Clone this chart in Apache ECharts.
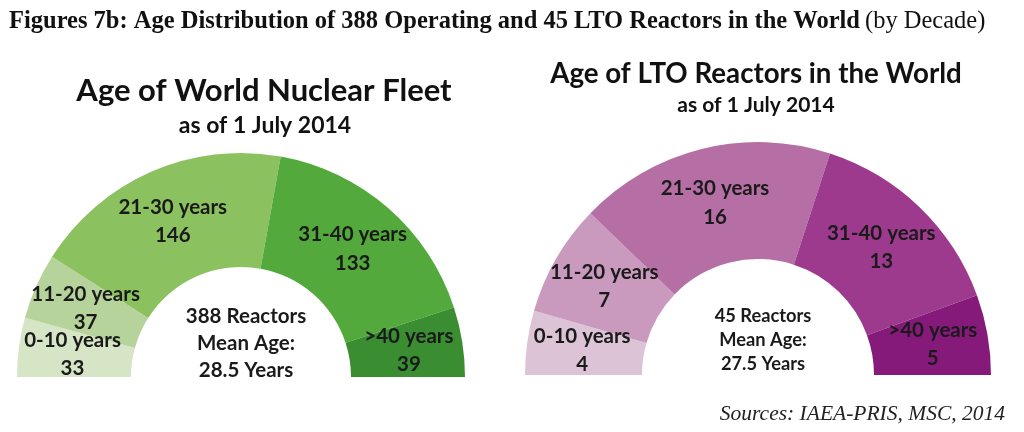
<!DOCTYPE html>
<html><head><meta charset="utf-8">
<script src="https://cdn.jsdelivr.net/npm/echarts@6/dist/echarts.min.js"></script>
<style>html,body{margin:0;padding:0;background:#fff}#c{width:1024px;height:432px}</style>
</head><body><div id="c"></div>
<script>
const categories = ['0-10 years', '11-20 years', '21-30 years', '31-40 years', '>40 years'];
const fleetValues = [33, 37, 146, 133, 39];
const ltoValues = [4, 7, 16, 13, 5];
const fleetColors = ['#d6e5c5', '#b5d39a', '#8cc160', '#53a93b', '#3a8d30'];
const ltoColors = ['#dcc3d6', '#c99abd', '#b56fa5', '#9e3a8e', '#861a7b'];
const fleetCenter = ['388 Reactors', 'Mean Age:', '28.5 Years'];
const ltoCenter = ['45 Reactors', 'Mean Age:', '27.5 Years'];

const F = 'Lato, "Open Sans", sans-serif';
const chart = echarts.init(document.getElementById('c'));

function pieSeries(values, colors, center, radius, fs) {
  return {
    type: 'pie', startAngle: 180, endAngle: 0, clockwise: true,
    center: center, radius: radius, silent: true, animation: false,
    itemStyle: {borderWidth: 0},
    avoidLabelOverlap: false,
    labelLayout: {hideOverlap: false},
    label: {
      position: 'inside', color: '#1a1a1a', fontFamily: F, fontWeight: 'bold',
      fontSize: fs, lineHeight: fs + 8,
      formatter: p => p.name + '\n' + p.value
    },
    labelLine: {show: false},
    data: categories.map((c, i) => ({name: c, value: values[i], itemStyle: {color: colors[i]}}))
  };
}

chart.setOption({
  backgroundColor: '#fff',
  title: [
    {text: '{b|Figures 7b: Age Distribution of 388 Operating and 45 LTO Reactors in the World} {n|(by Decade)}',
     left: 4, top: 4,
     textStyle: {rich: {
       b: {fontFamily: '"Liberation Serif", serif', fontWeight: 'bold', fontSize: 24.5, color: '#111'},
       n: {fontFamily: '"Liberation Serif", serif', fontWeight: 'normal', fontSize: 24.5, color: '#111'}}}},
    {text: 'Age of World Nuclear Fleet', left: 259, top: 70, textAlign: 'center',
     textStyle: {fontFamily: F, fontWeight: 'bold', fontSize: 31, color: '#111'}},
    {text: 'as of 1 July 2014', left: 260, top: 109, textAlign: 'center',
     textStyle: {fontFamily: F, fontWeight: 'bold', fontSize: 23, color: '#111'}},
    {text: 'Age of LTO Reactors in the World', left: 751, top: 55, textAlign: 'center',
     textStyle: {fontFamily: F, fontWeight: 'bold', fontSize: 27.7, color: '#111'}},
    {text: 'as of 1 July 2014', left: 751, top: 90, textAlign: 'center',
     textStyle: {fontFamily: F, fontWeight: 'bold', fontSize: 21, color: '#111'}},
    {text: fleetCenter.join('\n'), left: 241, top: 298, textAlign: 'center',
     textStyle: {fontFamily: F, fontWeight: 'bold', fontSize: 20.5, lineHeight: 27, color: '#1a1a1a'}},
    {text: ltoCenter.join('\n'), left: 758, top: 299, textAlign: 'center',
     textStyle: {fontFamily: F, fontWeight: 'bold', fontSize: 18.3, lineHeight: 24, color: '#1a1a1a'}},
    {text: 'Sources: IAEA-PRIS, MSC, 2014', right: 14, top: 398,
     textStyle: {fontFamily: '"Liberation Serif", serif', fontStyle: 'italic', fontWeight: 'normal', fontSize: 21.5, color: '#222'}}
  ],
  series: [
    pieSeries(fleetValues, fleetColors, [241, 377], [110, 224], 20.5),
    pieSeries(ltoValues, ltoColors, [758, 375], [116, 233], 20.5)
  ]
});
</script></body></html>
